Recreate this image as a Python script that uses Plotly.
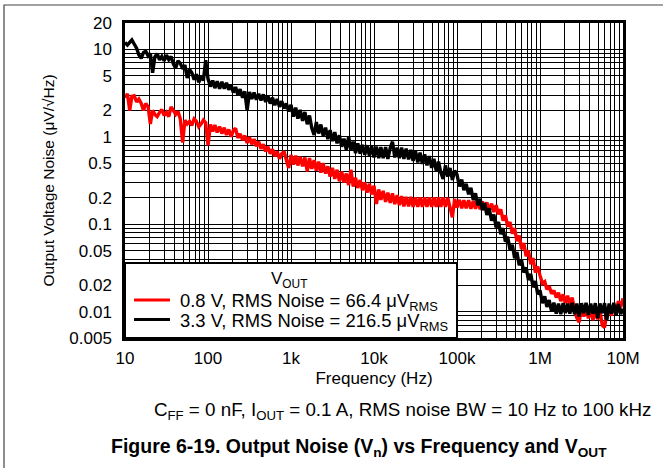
import plotly.graph_objects as go

# ---------------- data ----------------
freq_hz = [
    10, 10.7, 11.4, 12.1, 12.9, 13.8, 14.7, 15.7, 16.7, 17.8, 19, 20.2,
    21.5, 22.9, 24.4, 26.1, 27.8, 29.6, 31.6, 33.7, 35.9, 38.3, 40.8, 43.5,
    46.4, 49.5, 52.7, 56.2, 59.9, 63.8, 68.1, 72.6, 77.4, 82.5, 88, 93.8,
    100, 107, 114, 121, 129, 138, 147, 157, 167, 178, 190, 202,
    215, 229, 244, 261, 278, 296, 316, 337, 359, 383, 408, 435,
    464, 495, 527, 562, 599, 638, 681, 726, 774, 825, 880, 938,
    1000, 1070, 1140, 1210, 1290, 1380, 1470, 1570, 1670, 1780, 1900, 2020,
    2150, 2290, 2440, 2610, 2780, 2960, 3160, 3370, 3590, 3830, 4080, 4350,
    4640, 4950, 5270, 5620, 5990, 6380, 6810, 7260, 7740, 8250, 8800, 9380,
    10000, 10700, 11400, 12100, 12900, 13800, 14700, 15700, 16700, 17800, 19000, 20200,
    21500, 22900, 24400, 26100, 27800, 29600, 31600, 33700, 35900, 38300, 40800, 43500,
    46400, 49500, 52700, 56200, 59900, 63800, 68100, 72600, 77400, 82500, 88000, 93800,
    100000, 107000, 114000, 121000, 129000, 138000, 147000, 157000, 167000, 178000, 190000, 202000,
    215000, 229000, 244000, 261000, 278000, 296000, 316000, 337000, 359000, 383000, 408000, 435000,
    464000, 495000, 527000, 562000, 599000, 638000, 681000, 726000, 774000, 825000, 880000, 938000,
    1000000, 1070000, 1140000, 1210000, 1290000, 1380000, 1470000, 1570000, 1670000, 1780000, 1900000, 2020000,
    2150000, 2290000, 2440000, 2610000, 2780000, 2960000, 3160000, 3370000, 3590000, 3830000, 4080000, 4350000,
    4640000, 4950000, 5270000, 5620000, 5990000, 6380000, 6810000, 7260000, 7740000, 8250000, 8800000, 9380000,
    10000000,
]

# uV/rtHz, V_OUT = 0.8 V (red)
noise_0v8 = [
    2.8, 3.1, 2.0, 2.9, 2.95, 2.5, 2.7, 2.4, 2.0, 2.4, 2.2, 1.4,
    2.0, 1.8, 1.7, 1.9, 2.05, 1.75, 1.9, 1.7, 2.2, 2.0, 1.8, 1.95,
    1.6, 0.86, 1.55, 1.4, 1.5, 1.35, 1.6, 1.5, 1.3, 1.4, 1.55, 1.45,
    0.80, 1.38, 1.15, 1.36, 1.12, 1.31, 1.09, 1.27, 1.05, 1.21, 1.0, 1.18,
    1.25, 0.97, 1.08, 0.92, 1.03, 0.85, 0.99, 0.82, 0.94, 0.78, 0.88, 0.73,
    0.82, 0.68, 0.77, 0.64, 0.72, 0.60, 0.68, 0.56, 0.64, 0.68, 0.54, 0.44,
    0.62, 0.48, 0.61, 0.47, 0.59, 0.46, 0.58, 0.40, 0.57, 0.43, 0.54, 0.41,
    0.52, 0.39, 0.50, 0.38, 0.46, 0.35, 0.44, 0.33, 0.42, 0.31, 0.40, 0.30,
    0.38, 0.28, 0.42, 0.27, 0.34, 0.26, 0.32, 0.245, 0.30, 0.23, 0.29, 0.22,
    0.275, 0.17, 0.25, 0.19, 0.24, 0.18, 0.23, 0.175, 0.225, 0.17, 0.215, 0.165,
    0.21, 0.16, 0.205, 0.16, 0.205, 0.158, 0.202, 0.158, 0.202, 0.158, 0.202, 0.158,
    0.202, 0.158, 0.202, 0.158, 0.202, 0.158, 0.202, 0.158, 0.20, 0.155, 0.12, 0.195,
    0.155, 0.19, 0.152, 0.188, 0.152, 0.188, 0.15, 0.185, 0.15, 0.185, 0.148, 0.182,
    0.145, 0.178, 0.142, 0.172, 0.138, 0.165, 0.13, 0.148, 0.11, 0.126, 0.094, 0.106,
    0.078, 0.09, 0.064, 0.074, 0.052, 0.061, 0.043, 0.05, 0.035, 0.041, 0.028, 0.033,
    0.026, 0.021, 0.022, 0.018, 0.0195, 0.016, 0.0175, 0.0145, 0.0165, 0.0132, 0.0158, 0.0125,
    0.0152, 0.0120, 0.0145, 0.0105, 0.0085, 0.0076, 0.0108, 0.0088, 0.0112, 0.0084, 0.0108, 0.0080,
    0.0104, 0.0082, 0.0104, 0.0070, 0.0066, 0.0098, 0.0112, 0.0090, 0.0120, 0.0098, 0.0132, 0.0112,
    0.0142,
]

# uV/rtHz, V_OUT = 3.3 V (black)
noise_3v3 = [
    12.0, 11.2, 12.0, 12.8, 11.5, 10.3, 8.6, 7.9, 9.2, 9.5, 8.4, 9.0,
    5.4, 8.2, 8.9, 7.6, 8.3, 7.4, 8.6, 7.6, 8.3, 6.8, 6.1, 7.4,
    6.9, 6.0, 6.6, 4.7, 5.9, 5.4, 4.5, 5.2, 4.2, 4.9, 4.4, 7.5,
    4.6, 3.75, 4.4, 3.6, 4.3, 3.55, 4.25, 3.55, 4.15, 3.45, 3.9, 3.2,
    3.7, 3.0, 3.5, 2.8, 3.3, 2.0, 3.25, 2.7, 3.2, 2.65, 3.1, 2.6,
    3.05, 2.5, 2.95, 2.4, 2.8, 2.3, 2.7, 2.2, 2.55, 2.1, 2.4, 1.95,
    2.32, 1.70, 2.15, 1.61, 2.03, 1.52, 1.92, 1.39, 1.75, 1.26, 1.05, 1.47,
    1.09, 1.38, 1.03, 1.27, 0.94, 1.19, 0.89, 1.13, 0.84, 1.04, 0.77, 0.95,
    0.71, 1.0, 0.70, 0.88, 0.65, 0.84, 0.64, 0.81, 0.62, 0.80, 0.61, 0.78,
    0.58, 0.77, 0.57, 0.76, 0.57, 0.76, 0.56, 0.75, 0.88, 0.58, 0.75, 0.57,
    0.75, 0.56, 0.73, 0.55, 0.71, 0.53, 0.69, 0.51, 0.66, 0.49, 0.63, 0.47,
    0.60, 0.44, 0.56, 0.41, 0.52, 0.39, 0.33, 0.47, 0.35, 0.44, 0.32, 0.41,
    0.37, 0.27, 0.325, 0.245, 0.29, 0.22, 0.26, 0.19, 0.225, 0.165, 0.195, 0.145,
    0.175, 0.128, 0.152, 0.11, 0.129, 0.092, 0.106, 0.077, 0.09, 0.063, 0.072, 0.051,
    0.058, 0.041, 0.048, 0.034, 0.039, 0.028, 0.032, 0.023, 0.027, 0.019, 0.0224, 0.0158,
    0.0175, 0.0125, 0.0150, 0.0113, 0.0136, 0.0100, 0.0127, 0.0095, 0.0124, 0.0094, 0.0125, 0.0096,
    0.0124, 0.0095, 0.0126, 0.0094, 0.0124, 0.0088, 0.0125, 0.0096, 0.0126, 0.0092, 0.0124, 0.0095,
    0.0125, 0.0084, 0.0124, 0.0096, 0.0125, 0.0080, 0.0124, 0.0095, 0.0126, 0.0090, 0.0122, 0.0094,
    0.0108,
]

assert len(freq_hz) == len(noise_0v8) == len(noise_3v3), (len(freq_hz), len(noise_0v8), len(noise_3v3))

series_names = [
    "0.8 V, RMS Noise = 66.4 μV<sub>RMS</sub>",
    "3.3 V, RMS Noise = 216.5 μV<sub>RMS</sub>",
]
series_colors = ["#ff0000", "#000000"]
legend_title = "V<sub>OUT</sub>"

x_tickvals = [10, 100, 1000, 10000, 100000, 1000000, 10000000]
x_ticktext = ["10", "100", "1k", "10k", "100k", "1M", "10M"]
y_tickvals = [0.005, 0.01, 0.02, 0.05, 0.1, 0.2, 0.5, 1, 2, 5, 10, 20]
y_ticktext = ["0.005", "0.01", "0.02", "0.05", "0.1", "0.2", "0.5", "1", "2", "5", "10", "20"]

# ---------------- figure ----------------
FONT = "Liberation Sans, Arial, Helvetica, sans-serif"
W, H = 663, 468
ML, MR, MT, MB = 125, 40, 23, 130
PW, PH = W - ML - MR, H - MT - MB


def px_x(px):  # pixel column -> paper x
    return (px - ML) / PW


def px_y(py):  # pixel row -> paper y
    return (H - MB - py) / PH


fig = go.Figure()
for vals, name, col in zip([noise_0v8, noise_3v3], series_names, series_colors):
    fig.add_trace(go.Scatter(x=freq_hz, y=vals, mode="lines", name=name,
                             line=dict(color=col, width=3.4, simplify=False), showlegend=False))

x_minor = [m * 10 ** e for e in range(1, 7) for m in range(2, 10)]
y_minor = [m * 10.0 ** e for e in range(-3, 2) for m in range(1, 10)]
y_minor = [v for v in y_minor if 0.005 <= v <= 20]

shapes = [
    # legend panel (white, over the grid)
    dict(type="rect", xref="paper", yref="paper", x0=0, x1=0.6667, y0=0, y1=px_y(263),
         fillcolor="white", line=dict(color="black", width=2), layer="above"),
    # outer frame of the figure panel
    dict(type="rect", xref="paper", yref="paper", x0=px_x(4), x1=px_x(672), y0=px_y(480), y1=px_y(5),
         fillcolor="rgba(0,0,0,0)", line=dict(color="#444444", width=1.2), layer="above"),
]
annotations = [
    dict(text=legend_title, xref="paper", yref="paper", x=px_x(289), y=px_y(279.5),
         xanchor="center", yanchor="middle", showarrow=False, font=dict(size=17, family=FONT)),
]
for i, (name, col) in enumerate(zip(series_names, series_colors)):
    row_y = 300 + 19.5 * i
    shapes.append(dict(type="line", xref="paper", yref="paper", x0=px_x(134), x1=px_x(170),
                       y0=px_y(row_y), y1=px_y(row_y), line=dict(color=col, width=3), layer="above"))
    annotations.append(dict(text=name, xref="paper", yref="paper", x=px_x(178), y=px_y(row_y + 2),
                            xanchor="left", yanchor="middle", showarrow=False,
                            font=dict(size=18.4, family=FONT)))

annotations += [
    dict(text="C<sub>FF</sub> = 0 nF, I<sub>OUT</sub> = 0.1 A, RMS noise BW = 10 Hz to 100 kHz",
         xref="paper", yref="paper", x=px_x(402), y=px_y(411), xanchor="center", yanchor="middle",
         showarrow=False, font=dict(size=18.8, family=FONT)),
    dict(text="<b>Figure 6-19. Output Noise (V<sub>n</sub>) vs Frequency and V<sub>OUT</sub></b>",
         xref="paper", yref="paper", x=px_x(359), y=px_y(447), xanchor="center", yanchor="middle",
         showarrow=False, font=dict(size=19.5, family=FONT)),
]

fig.update_layout(
    width=W, height=H,
    margin=dict(l=ML, r=MR, t=MT, b=MB),
    paper_bgcolor="white", plot_bgcolor="white",
    font=dict(family=FONT, color="black", size=17),
    showlegend=False,
    xaxis=dict(
        type="log", range=[1, 7],
        tickvals=x_tickvals, ticktext=x_ticktext,
        showgrid=True, gridcolor="black", gridwidth=1,
        minor=dict(tickmode="array", tickvals=x_minor, showgrid=True, gridcolor="black", gridwidth=1, ticks=""),
        showline=True, linecolor="black", linewidth=2.5, mirror=True,
        ticks="", ticklabelstandoff=3,
        tickfont=dict(size=17),
        title=dict(text="Frequency (Hz)", font=dict(size=17), standoff=5),
        zeroline=False,
    ),
    yaxis=dict(
        type="log", range=[-2.30103, 1.30103],
        tickvals=y_tickvals, ticktext=y_ticktext,
        showgrid=True, gridcolor="black", gridwidth=1,
        minor=dict(tickmode="array", tickvals=y_minor, showgrid=True, gridcolor="black", gridwidth=1, ticks=""),
        showline=True, linecolor="black", linewidth=2.5, mirror=True,
        ticks="", ticklabelstandoff=7,
        tickfont=dict(size=17),
        title=dict(text="Output Voltage Noise (μV/√Hz)", font=dict(size=15.5), standoff=11),
        zeroline=False,
    ),
    shapes=shapes,
    annotations=annotations,
    hovermode=False,
)

# remove the browser's default 8px page margin so the figure sits at the window origin
fig.write_html("out.html", config=dict(displayModeBar=False),
               post_script="document.body.style.margin='0';document.body.style.overflow='hidden';")
